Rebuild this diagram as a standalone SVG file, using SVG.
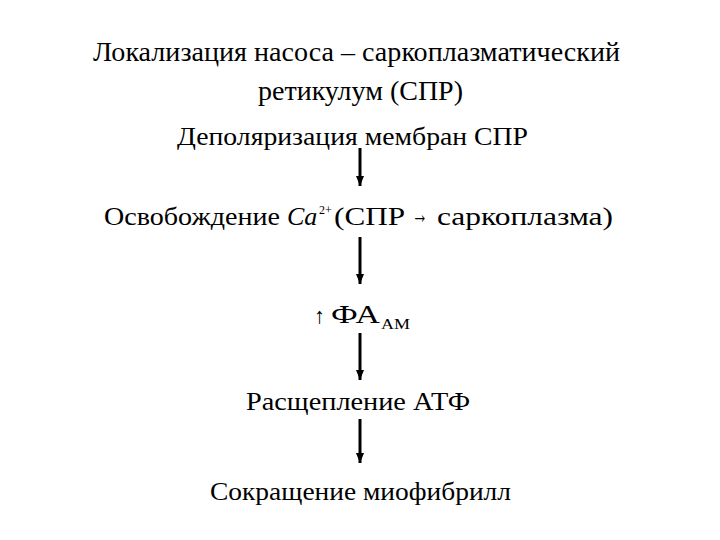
<svg xmlns="http://www.w3.org/2000/svg" width="720" height="540" viewBox="0 0 720 540">
<defs>
<style>
text{font-family:"Liberation Serif","DejaVu Serif","Times New Roman",serif;fill:#000;}
.t{font-size:27px;}
.m{font-size:26px;}
.c{stroke:#000;stroke-width:3;fill:none;}
</style>
<marker id="ah" markerWidth="10" markerHeight="8" refX="10" refY="4" orient="auto" markerUnits="userSpaceOnUse" viewBox="0 0 10 8">
<path d="M0,0 L10,4 L0,8 Z" fill="#000"/>
</marker>
</defs>
<rect width="720" height="540" fill="#fff"/>
<g id="title">
<text class="t" x="93" y="61" textLength="527" lengthAdjust="spacingAndGlyphs">Локализация насоса – саркоплазматический</text>
<text class="t" x="258" y="100" textLength="205" lengthAdjust="spacingAndGlyphs">ретикулум (СПР)</text>
</g>
<g id="n1">
<text class="m" x="177" y="145" textLength="351" lengthAdjust="spacingAndGlyphs">Деполяризация мембран СПР</text>
</g>
<g id="n2">
<text class="m" x="104" y="225" textLength="176" lengthAdjust="spacingAndGlyphs">Освобождение</text>
<text class="m" x="287" y="225" font-style="italic">Ca</text>
<text x="319" y="214" font-size="12">2+</text>
<text class="m" x="334" y="225" textLength="71" lengthAdjust="spacingAndGlyphs">(СПР</text>
<text x="412" y="223" font-size="26" textLength="16" lengthAdjust="spacingAndGlyphs">→</text>
<text class="m" x="437" y="225" textLength="176" lengthAdjust="spacingAndGlyphs">саркоплазма)</text>
</g>
<g id="n3">
<text x="314" y="323" font-size="22">↑</text>
<text class="m" x="331" y="323" textLength="49" lengthAdjust="spacingAndGlyphs">ФА</text>
<text x="381" y="329" font-size="15" textLength="29" lengthAdjust="spacingAndGlyphs">АМ</text>
</g>
<g id="n4">
<text class="m" x="246" y="410" textLength="224" lengthAdjust="spacingAndGlyphs">Расщепление АТФ</text>
</g>
<g id="n5">
<text class="m" x="210" y="500" textLength="301" lengthAdjust="spacingAndGlyphs">Сокращение миофибрилл</text>
</g>
<g id="connectors">
<line class="c" x1="360" y1="148" x2="360" y2="186" marker-end="url(#ah)"/>
<line class="c" x1="360" y1="237" x2="360" y2="284" marker-end="url(#ah)"/>
<line class="c" x1="360" y1="333" x2="360" y2="380" marker-end="url(#ah)"/>
<line class="c" x1="360" y1="419" x2="360" y2="463" marker-end="url(#ah)"/>
</g>
</svg>
